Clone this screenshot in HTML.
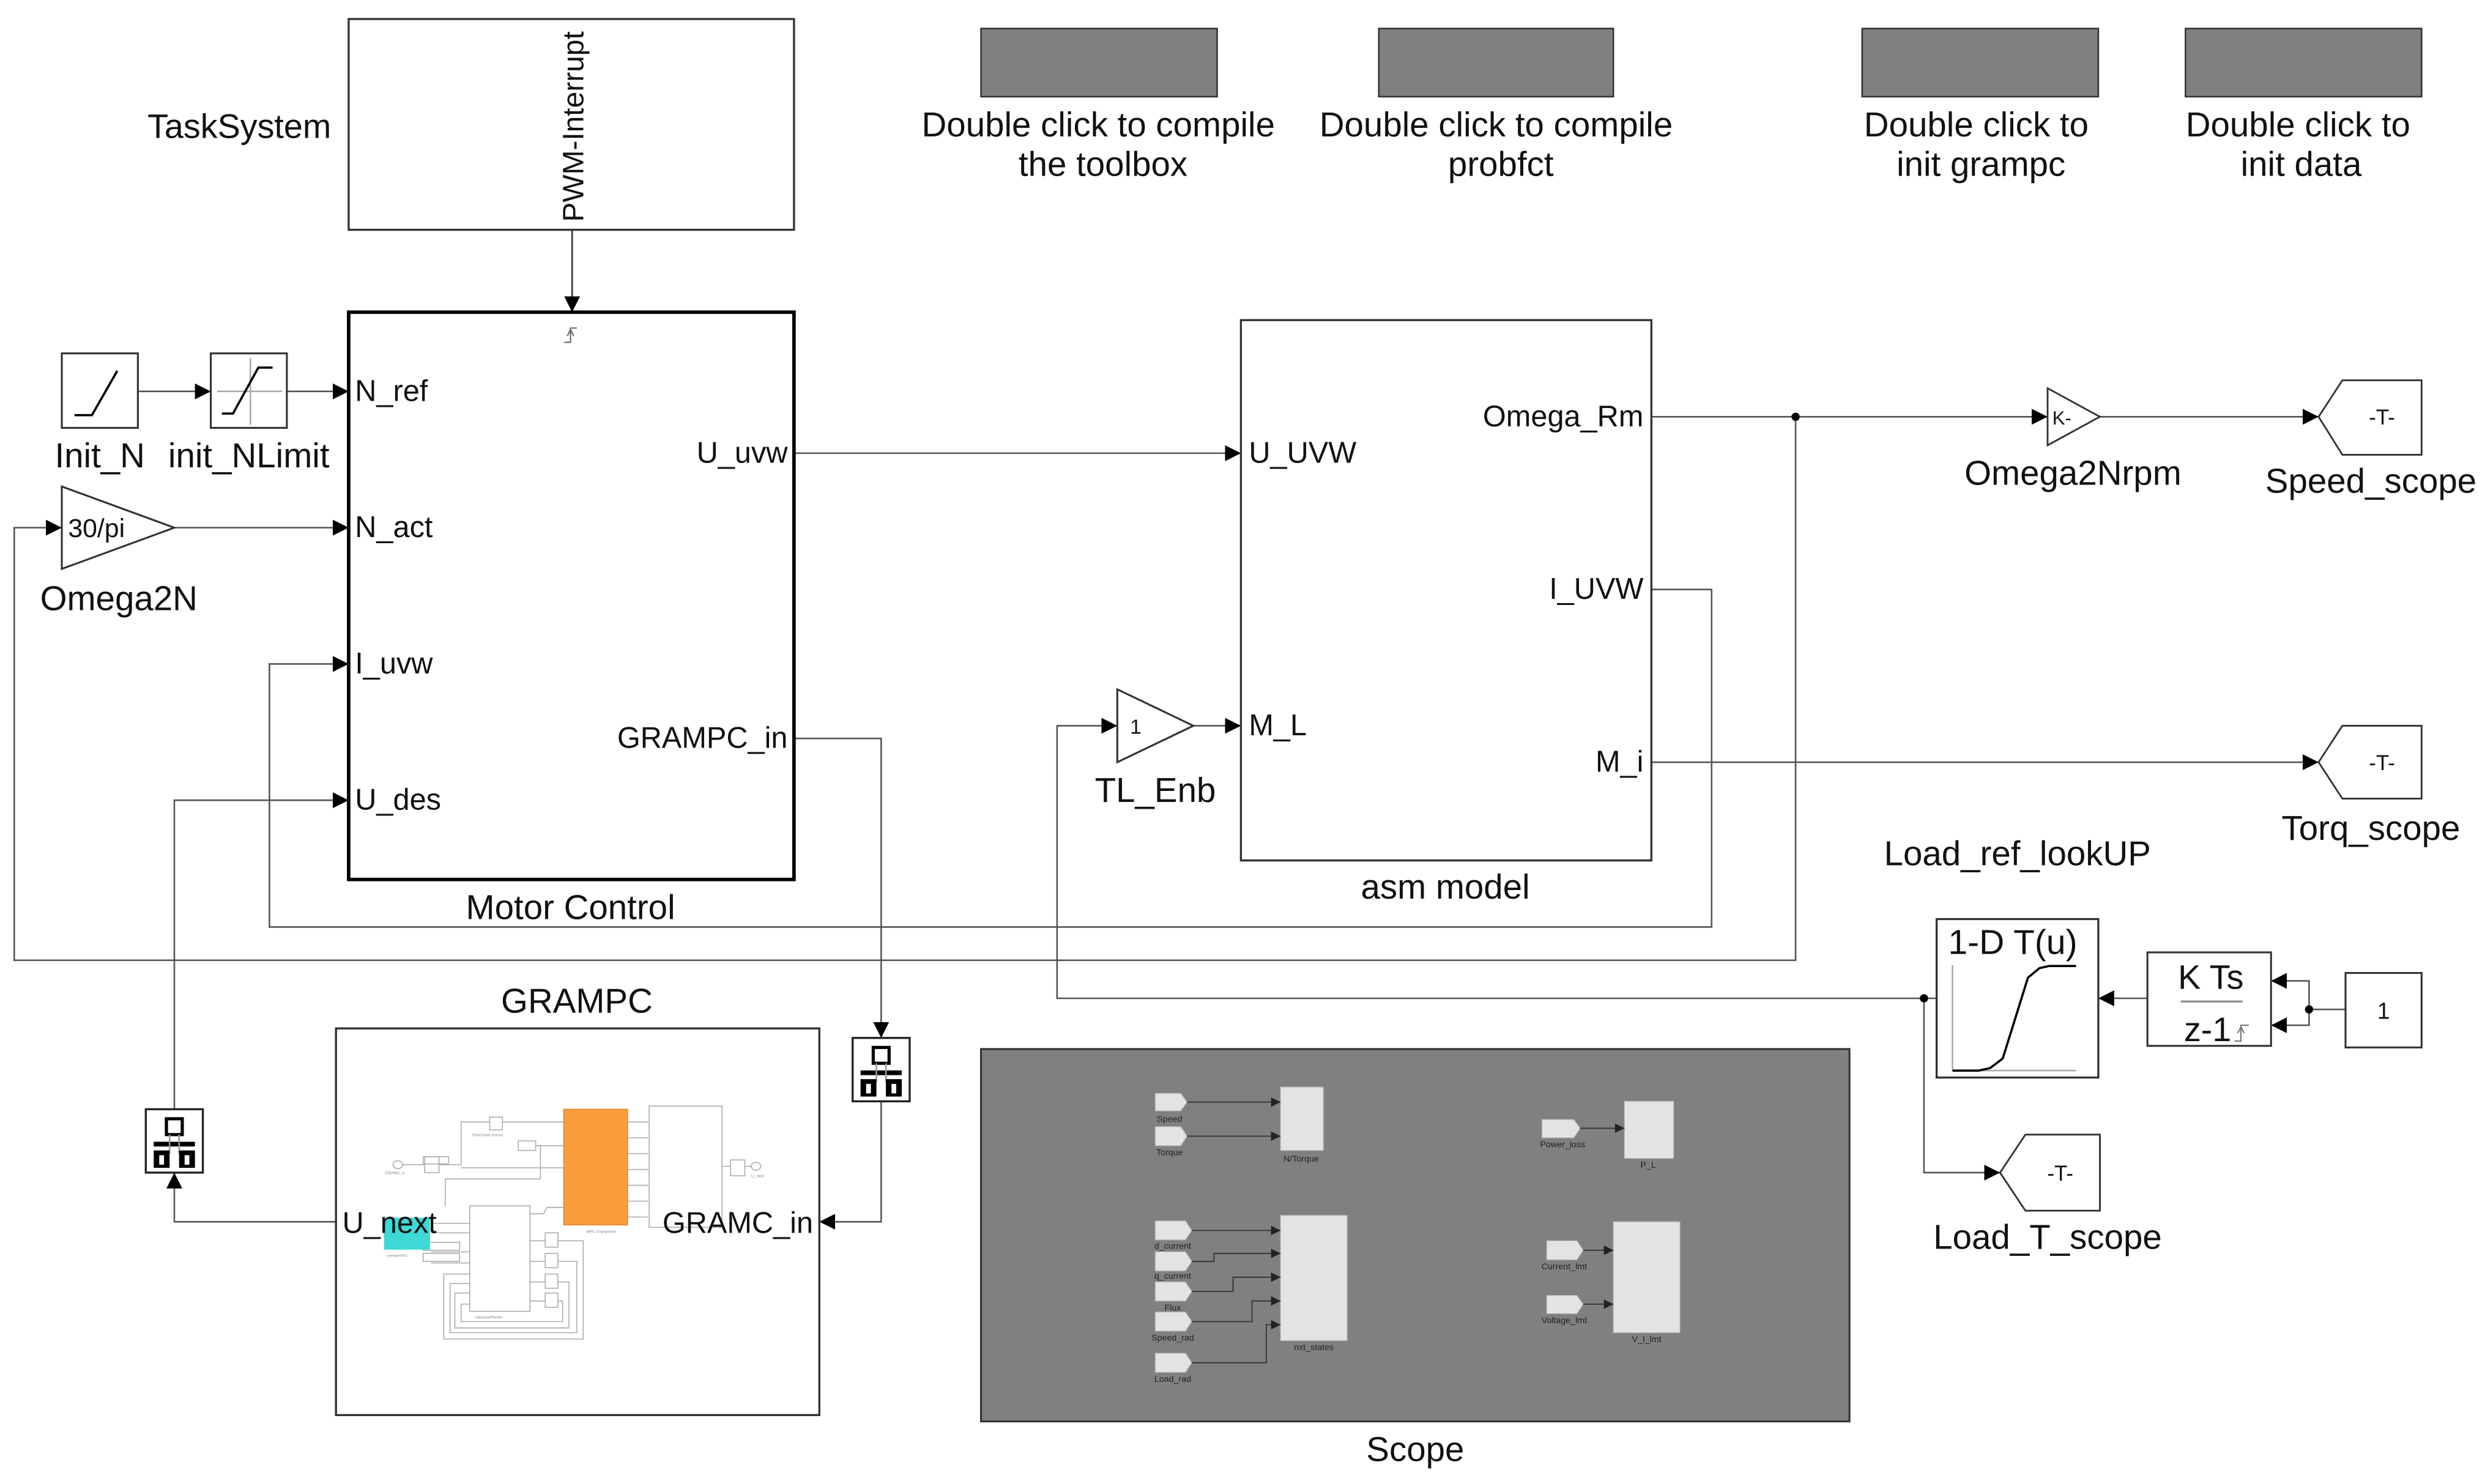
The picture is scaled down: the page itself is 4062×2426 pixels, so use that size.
<!DOCTYPE html>
<html><head><meta charset="utf-8"><style>
html,body{margin:0;padding:0;background:#fff;}
svg{display:block;}
text{font-family:"Liberation Sans",Arial,sans-serif;fill:#111;}
</style></head><body>
<svg width="4062" height="2426" viewBox="0 0 1568 936.5" preserveAspectRatio="none" xmlns="http://www.w3.org/2000/svg">
<defs>
<marker id="a" markerWidth="10" markerHeight="10" refX="10" refY="5" orient="auto" markerUnits="userSpaceOnUse"><path d="M0,0 L10,5 L0,10 z" fill="#000"/></marker>
<marker id="s" markerWidth="6" markerHeight="6" refX="6" refY="3" orient="auto" markerUnits="userSpaceOnUse"><path d="M0,0 L6,3 L0,6 z" fill="#222"/></marker>
<g id="rt">
<rect x="0" y="0" width="36" height="40" fill="#fff" stroke="#222" stroke-width="1.3"/>
<rect x="13" y="6" width="10" height="10" fill="#fff" stroke="#000" stroke-width="2"/>
<line x1="5" y1="22" x2="31" y2="22" stroke="#000" stroke-width="3"/>
<line x1="15" y1="16" x2="15" y2="28" stroke="#999" stroke-width="1"/>
<line x1="21" y1="16" x2="21" y2="28" stroke="#999" stroke-width="1"/>
<rect x="5" y="26" width="10" height="11" fill="#000"/><rect x="8.5" y="29" width="3" height="6" fill="#fff"/>
<rect x="21" y="26" width="10" height="11" fill="#000"/><rect x="24.5" y="29" width="3" height="6" fill="#fff"/>
</g>
</defs>

<g fill="none" stroke="#555" stroke-width="1">
<line x1="361" y1="145" x2="361" y2="197" stroke="#333" marker-end="url(#a)"/>
<line x1="87" y1="247" x2="133" y2="247" marker-end="url(#a)"/>
<line x1="181" y1="247" x2="220" y2="247" marker-end="url(#a)"/>
<line x1="110" y1="333" x2="220" y2="333" marker-end="url(#a)"/>
<polyline points="1133,263 1133,606 9,606 9,333 39,333" marker-end="url(#a)"/>
<polyline points="1042,372 1080,372 1080,585 170,585 170,419 220,419" marker-end="url(#a)"/>
<polyline points="110,700 110,505 220,505" marker-end="url(#a)"/>
<polyline points="212,771 110,771 110,740" marker-end="url(#a)"/>
<polyline points="501,466 556,466 556,655" marker-end="url(#a)"/>
<polyline points="556,693 556,771 517,771" marker-end="url(#a)"/>
<line x1="501" y1="286" x2="783" y2="286" marker-end="url(#a)"/>
<line x1="1042" y1="263" x2="1292" y2="263" marker-end="url(#a)"/>
<line x1="1325" y1="263" x2="1463" y2="263" marker-end="url(#a)"/>
<line x1="1042" y1="481" x2="1463" y2="481" marker-end="url(#a)"/>
<line x1="753" y1="458" x2="783" y2="458" marker-end="url(#a)"/>
<polyline points="1222,630 667,630 667,458 705,458" marker-end="url(#a)"/>
<polyline points="1214,630 1214,740 1262,740" marker-end="url(#a)"/>
<line x1="1355" y1="630" x2="1324" y2="630" marker-end="url(#a)"/>
<line x1="1480" y1="637" x2="1457" y2="637"/>
<polyline points="1457,637 1457,619 1433,619" marker-end="url(#a)"/>
<polyline points="1457,637 1457,647 1433,647" marker-end="url(#a)"/>
</g>
<circle cx="1133" cy="263" r="2.6" fill="#000"/>
<circle cx="1214" cy="630" r="2.6" fill="#000"/>
<circle cx="1457" cy="637" r="2.6" fill="#000"/>

<!-- TaskSystem -->
<rect x="220" y="12" width="281" height="133" fill="#fff" stroke="#333" stroke-width="1.3"/>
<text x="151" y="87" font-size="21.5" text-anchor="middle">TaskSystem</text>
<text transform="translate(368,140) rotate(-90)" font-size="18.5">PWM-Interrupt</text>

<!-- Motor Control -->
<rect x="220" y="197" width="281" height="358" fill="#fff" stroke="#000" stroke-width="2.2"/>
<path d="M356,216 h4 v-9 h4 M358,212 l2,-4 l2,4" fill="none" stroke="#666" stroke-width="0.8"/>
<g font-size="18.8">
<text x="224" y="253">N_ref</text><text x="224" y="339">N_act</text>
<text x="224" y="425">I_uvw</text><text x="224" y="511">U_des</text>
<text x="497" y="292" text-anchor="end">U_uvw</text>
<text x="497" y="472" text-anchor="end">GRAMPC_in</text>
</g>
<text x="360" y="580" font-size="21.8" text-anchor="middle">Motor Control</text>

<!-- Init_N -->
<rect x="39" y="223" width="48" height="47" fill="#fff" stroke="#333" stroke-width="1.2"/>
<polyline points="47,262 58,262 74,234" fill="none" stroke="#000" stroke-width="1.4"/>
<rect x="133" y="223" width="48" height="47" fill="#fff" stroke="#333" stroke-width="1.2"/>
<line x1="137" y1="247" x2="178" y2="247" stroke="#aaa"/><line x1="158" y1="226" x2="158" y2="268" stroke="#aaa"/>
<polyline points="140,261 147,261 163,232 172,232" fill="none" stroke="#000" stroke-width="1.4"/>
<text x="63" y="295" font-size="21.8" text-anchor="middle">Init_N</text>
<text x="157" y="295" font-size="21.8" text-anchor="middle">init_NLimit</text>

<!-- Omega2N -->
<polygon points="39,307 110,333 39,359" fill="#fff" stroke="#333" stroke-width="1.2"/>
<text x="43" y="339" font-size="16.5">30/pi</text>
<text x="75" y="385" font-size="21.8" text-anchor="middle">Omega2N</text>

<!-- asm model -->
<rect x="783" y="202" width="259" height="341" fill="#fff" stroke="#333" stroke-width="1.3"/>
<g font-size="18.8">
<text x="788" y="292">U_UVW</text><text x="788" y="464">M_L</text>
<text x="1037" y="269" text-anchor="end">Omega_Rm</text>
<text x="1037" y="378" text-anchor="end">I_UVW</text>
<text x="1037" y="487" text-anchor="end">M_i</text>
</g>
<text x="912" y="567" font-size="21.8" text-anchor="middle">asm model</text>

<!-- TL_Enb -->
<polygon points="705,435 753,458 705,481" fill="#fff" stroke="#333" stroke-width="1.2"/>
<text x="713" y="463" font-size="13">1</text>
<text x="729" y="506" font-size="21.8" text-anchor="middle">TL_Enb</text>

<!-- Omega2Nrpm -->
<polygon points="1292,245 1325,263 1292,281" fill="#fff" stroke="#333" stroke-width="1.1"/>
<text x="1295" y="268" font-size="12">K-</text>
<text x="1308" y="306" font-size="21.8" text-anchor="middle">Omega2Nrpm</text>

<!-- Goto tags -->
<g fill="#fff" stroke="#333" stroke-width="1.1">
<polygon points="1463,263 1478,240 1528,240 1528,287 1478,287"/>
<polygon points="1463,481 1478,458 1528,458 1528,504 1478,504"/>
<polygon points="1262,740 1278,716 1325,716 1325,764 1278,764"/>
</g>
<g font-size="13.5" text-anchor="middle">
<text x="1503" y="268">-T-</text><text x="1503" y="486">-T-</text><text x="1300" y="745">-T-</text>
</g>
<text x="1496" y="311" font-size="21.8" text-anchor="middle">Speed_scope</text>
<text x="1496" y="530" font-size="21.8" text-anchor="middle">Torq_scope</text>
<text x="1292" y="788" font-size="21.8" text-anchor="middle">Load_T_scope</text>
<text x="1273" y="546" font-size="21.8" text-anchor="middle">Load_ref_lookUP</text>

<!-- lookup -->
<rect x="1222" y="580" width="102" height="100" fill="#fff" stroke="#333" stroke-width="1.3"/>
<text x="1270" y="602" font-size="22" text-anchor="middle">1-D T(u)</text>
<line x1="1232" y1="609" x2="1232" y2="675.6" stroke="#aaa"/>
<line x1="1232" y1="675.6" x2="1310" y2="675.6" stroke="#aaa"/>
<polyline points="1232,675.6 1248.6,675.6 1255.8,674 1263.7,668 1279.6,617 1286.8,611 1293,609.6 1310,609.6" fill="none" stroke="#000" stroke-width="1.4"/>
<rect x="1355" y="601" width="78" height="59" fill="#fff" stroke="#333" stroke-width="1.2"/>
<text x="1395" y="624" font-size="21.5" text-anchor="middle">K Ts</text>
<line x1="1376" y1="632" x2="1415" y2="632" stroke="#888" stroke-width="1.2"/>
<text x="1393" y="657" font-size="21.5" text-anchor="middle">z-1</text>
<path d="M1410,657 h4 v-10 h5 M1412,652 l2,-4 l2,4" fill="none" stroke="#777" stroke-width="0.8"/>
<rect x="1480" y="614" width="48" height="47" fill="#fff" stroke="#333" stroke-width="1.2"/>
<text x="1504" y="643" font-size="14.5" text-anchor="middle">1</text>

<use href="#rt" x="92" y="700"/>
<use href="#rt" x="538" y="655"/>

<!-- top buttons -->
<g fill="#808080" stroke="#333" stroke-width="1">
<rect x="619" y="18" width="149" height="43"/><rect x="870" y="18" width="148" height="43"/>
<rect x="1175" y="18" width="149" height="43"/><rect x="1379" y="18" width="149" height="43"/>
</g>
<g font-size="21.8" text-anchor="middle">
<text x="693" y="86">Double click to compile</text><text x="696" y="111">the toolbox</text>
<text x="944" y="86">Double click to compile</text><text x="947" y="111">probfct</text>
<text x="1247" y="86">Double click to</text><text x="1250" y="111">init grampc</text>
<text x="1450" y="86">Double click to</text><text x="1452" y="111">init data</text>
</g>

<!-- GRAMPC -->
<text x="364" y="639" font-size="21.8" text-anchor="middle">GRAMPC</text>
<rect x="212" y="649" width="305" height="244" fill="#fff" stroke="#333" stroke-width="1.3"/>
<g fill="none" stroke="#aaa" stroke-width="0.6">
<rect x="409.6" y="698" width="46" height="76.5"/>
<rect x="296.4" y="761" width="38" height="66.5"/>
<rect x="267" y="730" width="16" height="4.5"/><rect x="267" y="784" width="23" height="5"/><rect x="267" y="791" width="23" height="5"/>
<rect x="309" y="705" width="8" height="8"/><rect x="327" y="720" width="11" height="6"/><rect x="268" y="730" width="9" height="10"/>
<rect x="461" y="732" width="9" height="10"/><ellipse cx="251" cy="735" rx="3" ry="2.5"/><ellipse cx="477" cy="736" rx="3" ry="2.5"/>
<polyline points="254,735 268,735"/><polyline points="277,735 291,735 291,708 309,708"/><polyline points="317,708 356,708"/>
<polyline points="291,737 356,737"/><polyline points="338,723 356,723"/><polyline points="334,766 343,766 345,762 356,762"/>
<polyline points="281,761 281,744 341,744 341,723"/>
<path d="M396,708 H409 M396,718 H409 M396,728 H409 M396,738 H409 M396,748 H409 M396,758 H409 M396,768 H409"/>
<path d="M456,736 H461 M470,736 H474"/>
<path d="M334,783 H344 M334,796 H344 M334,809 H344 M334,821 H344"/>
<polyline points="352,783 368,783 368,845 280,845 280,804 296,804"/>
<polyline points="352,796 364,796 364,841 284,841 284,810 296,810"/>
<polyline points="352,809 359,809 359,838 287,838 287,816 296,816"/>
<polyline points="352,821 355,821 355,834 291,834 291,823 296,823"/>
<path d="M272,772 H296 M272,778 H296 M272,790 H296 M272,797 H296"/>
</g>
<g fill="#fff" stroke="#aaa" stroke-width="0.6">
<rect x="344" y="778" width="8" height="9"/><rect x="344" y="791" width="8" height="9"/><rect x="344" y="804" width="8" height="9"/><rect x="344" y="816" width="8" height="9"/>
</g>
<rect x="355.7" y="700" width="40.3" height="73" fill="#fb9d3d" stroke="#e08a30" stroke-width="0.6"/>
<rect x="242.3" y="768.4" width="29" height="20.2" fill="#3dd9d6"/>
<g font-size="2.5">
<text x="298" y="717" style="fill:#888">Feed back bound</text><text x="243" y="741" style="fill:#888">GRAMC_in</text><text x="370" y="778" style="fill:#888">MPC-Subsystem</text>
<text x="300" y="832" style="fill:#888">newUserParam</text><text x="474" y="743" style="fill:#888">U_next</text><text x="244" y="793" style="fill:#888">userparam1</text>
</g>
<text x="216" y="778" font-size="18.8">U_next</text>
<text x="418" y="778" font-size="18.8">GRAMC_in</text>

<!-- Scope -->
<rect x="619" y="662" width="548" height="235" fill="#808080" stroke="#333" stroke-width="1.2"/>
<text x="893" y="922" font-size="21.8" text-anchor="middle">Scope</text>
<g fill="#e3e3e3" stroke="#bbb" stroke-width="0.5">
<rect x="808" y="686" width="27" height="40"/>
<rect x="1025" y="695" width="31" height="36"/>
<rect x="808" y="767" width="42" height="79"/>
<rect x="1018" y="771" width="42" height="70"/>
<polygon points="729,690 745,690 749,695.5 745,701 729,701"/>
<polygon points="729,711 745,711 749,717 745,723 729,723"/>
<polygon points="973,706.5 993,706.5 997,712 993,718 973,718"/>
<polygon points="729,770.5 748,770.5 752,776.5 748,782.4 729,782.4"/>
<polygon points="729,790 748,790 752,796 748,802 729,802"/>
<polygon points="729,809 748,809 752,815 748,821 729,821"/>
<polygon points="729,828 748,828 752,834 748,840 729,840"/>
<polygon points="729,854 748,854 752,860 748,866 729,866"/>
<polygon points="976,783 995,783 999,789 995,795 976,795"/>
<polygon points="976,817.5 995,817.5 999,823 995,829 976,829"/>
</g>
<g fill="none" stroke="#333" stroke-width="0.7">
<line x1="749" y1="695.5" x2="808" y2="695.5" marker-end="url(#s)"/>
<line x1="749" y1="717" x2="808" y2="717" marker-end="url(#s)"/>
<line x1="997" y1="712" x2="1025" y2="712" marker-end="url(#s)"/>
<line x1="752" y1="776.5" x2="808" y2="776.5" marker-end="url(#s)"/>
<polyline points="752,796 766,796 766,791 808,791" marker-end="url(#s)"/>
<polyline points="752,815 778,815 778,806 808,806" marker-end="url(#s)"/>
<polyline points="752,834 790,834 790,821 808,821" marker-end="url(#s)"/>
<polyline points="752,860 799,860 799,836 808,836" marker-end="url(#s)"/>
<line x1="999" y1="789" x2="1018" y2="789" marker-end="url(#s)"/>
<line x1="999" y1="823" x2="1018" y2="823" marker-end="url(#s)"/>
</g>
<g font-size="5.5" text-anchor="middle">
<text x="738" y="708" style="fill:#222">Speed</text><text x="738" y="729" style="fill:#222">Torque</text>
<text x="821" y="733" style="fill:#222">N/Torque</text><text x="986" y="724" style="fill:#222">Power_loss</text>
<text x="1040" y="737" style="fill:#222">P_L</text><text x="740" y="788" style="fill:#222">d_current</text>
<text x="740" y="807" style="fill:#222">q_current</text><text x="740" y="827" style="fill:#222">Flux</text>
<text x="740" y="846" style="fill:#222">Speed_rad</text><text x="740" y="872" style="fill:#222">Load_rad</text>
<text x="829" y="852" style="fill:#222">nxt_states</text><text x="987" y="801" style="fill:#222">Current_lmt</text>
<text x="987" y="835" style="fill:#222">Voltage_lmt</text><text x="1039" y="847" style="fill:#222">V_I_lmt</text>
</g>
</svg>
</body></html>
